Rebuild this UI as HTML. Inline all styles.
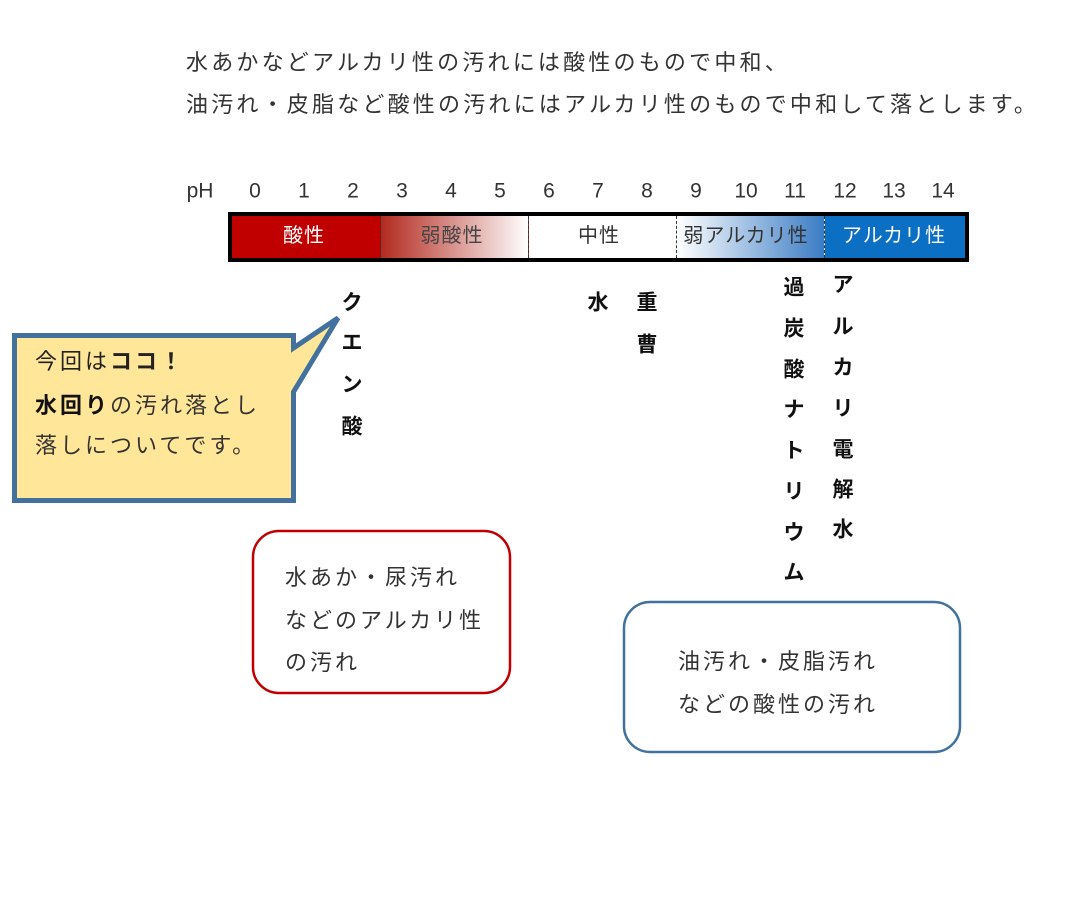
<!DOCTYPE html>
<html><head><meta charset="utf-8"><style>
body{margin:0;width:1080px;height:898px;background:#fff;position:relative;overflow:hidden;font-family:"Liberation Sans","Noto Sans CJK JP",sans-serif;color:#333}
.t{position:absolute;white-space:nowrap;line-height:1;font-size:22px;letter-spacing:3px}
.c{position:absolute;line-height:1;font-size:21px;font-weight:bold;color:#111;transform:translate(-50%,-50%)}
.n{position:absolute;line-height:1;font-size:21px;color:#333;transform:translate(-50%,-50%)}
.bl{position:absolute;line-height:1;font-size:20px;transform:translate(-50%,-50%);white-space:nowrap;letter-spacing:1px}
</style></head><body>
<div class="t" style="left:186px;top:52px;letter-spacing:3.2px">水あかなどアルカリ性の汚れには酸性のもので中和、</div>
<div class="t" style="left:186px;top:94px;letter-spacing:3.2px">油汚れ・皮脂など酸性の汚れにはアルカリ性のもので中和して落とします。</div>

<div class="n" style="left:200px;top:191px">pH</div>
<div class="n" style="left:255px;top:191px">0</div><div class="n" style="left:304px;top:191px">1</div><div class="n" style="left:353px;top:191px">2</div><div class="n" style="left:402px;top:191px">3</div><div class="n" style="left:451px;top:191px">4</div><div class="n" style="left:500px;top:191px">5</div><div class="n" style="left:549px;top:191px">6</div><div class="n" style="left:598px;top:191px">7</div><div class="n" style="left:647px;top:191px">8</div><div class="n" style="left:696px;top:191px">9</div><div class="n" style="left:746px;top:191px">10</div><div class="n" style="left:795px;top:191px">11</div><div class="n" style="left:845px;top:191px">12</div><div class="n" style="left:894px;top:191px">13</div><div class="n" style="left:943px;top:191px">14</div>

<div style="position:absolute;left:228px;top:212px;width:733px;height:42px;border:4px solid #000;display:flex">
 <div style="width:148px;background:#c00000;border-right:1px dashed #333"></div>
 <div style="width:147px;background:linear-gradient(90deg,#b22a1f,#fff);border-right:1px dashed #333"></div>
 <div style="width:147px;background:#fff;border-right:1px dashed #333"></div>
 <div style="width:147px;background:linear-gradient(90deg,#fff,#3a7cc4);border-right:1px dashed #333"></div>
 <div style="flex:1;background:#0b6fc4"></div>
</div>
<div class="bl" style="left:304px;top:236px;color:#fff">酸性</div>
<div class="bl" style="left:452px;top:236px;color:#444">弱酸性</div>
<div class="bl" style="left:599px;top:236px;color:#333">中性</div>
<div class="bl" style="left:746px;top:236px;color:#333">弱アルカリ性</div>
<div class="bl" style="left:894px;top:236px;color:#fff">アルカリ性</div>

<div class="c" style="left:352px;top:303px">ク</div><div class="c" style="left:352px;top:343px">エ</div><div class="c" style="left:352px;top:385px">ン</div><div class="c" style="left:352px;top:427px">酸</div>
<div class="c" style="left:598px;top:303px">水</div>
<div class="c" style="left:647px;top:303px">重</div><div class="c" style="left:647px;top:345px">曹</div>
<div class="c" style="left:794px;top:288px">過</div><div class="c" style="left:794px;top:329px">炭</div><div class="c" style="left:794px;top:370px">酸</div><div class="c" style="left:794px;top:410px">ナ</div><div class="c" style="left:794px;top:451px">ト</div><div class="c" style="left:794px;top:492px">リ</div><div class="c" style="left:794px;top:533px">ウ</div><div class="c" style="left:794px;top:573px">ム</div>
<div class="c" style="left:843px;top:285px">ア</div><div class="c" style="left:843px;top:327px">ル</div><div class="c" style="left:843px;top:368px">カ</div><div class="c" style="left:843px;top:409px">リ</div><div class="c" style="left:843px;top:450px">電</div><div class="c" style="left:843px;top:490px">解</div><div class="c" style="left:843px;top:530px">水</div>

<svg style="position:absolute;left:0;top:0" width="1080" height="898">
 <path d="M14.5,335.5 H293.5 V348 L338,318 L293.5,392 V500.5 H14.5 Z" fill="#ffe699" stroke="#41719c" stroke-width="5" stroke-linejoin="miter"/>
 <rect x="253" y="531" width="257" height="162" rx="26" fill="none" stroke="#c00000" stroke-width="2.5"/>
 <rect x="624" y="602" width="336" height="150" rx="26" fill="none" stroke="#41719c" stroke-width="2.5"/>
</svg>
<div class="t" style="left:35px;top:351px;color:#222">今回は<b>ココ！</b></div>
<div class="t" style="left:35px;top:395px;color:#333"><b style="color:#111">水回り</b>の汚れ落とし</div>
<div class="t" style="left:35px;top:435px;color:#333">落しについてです。</div>

<div class="t" style="left:285px;top:567px">水あか・尿汚れ</div>
<div class="t" style="left:285px;top:610px">などのアルカリ性</div>
<div class="t" style="left:285px;top:652px">の汚れ</div>
<div class="t" style="left:678px;top:651px">油汚れ・皮脂汚れ</div>
<div class="t" style="left:678px;top:694px">などの酸性の汚れ</div>
</body></html>
